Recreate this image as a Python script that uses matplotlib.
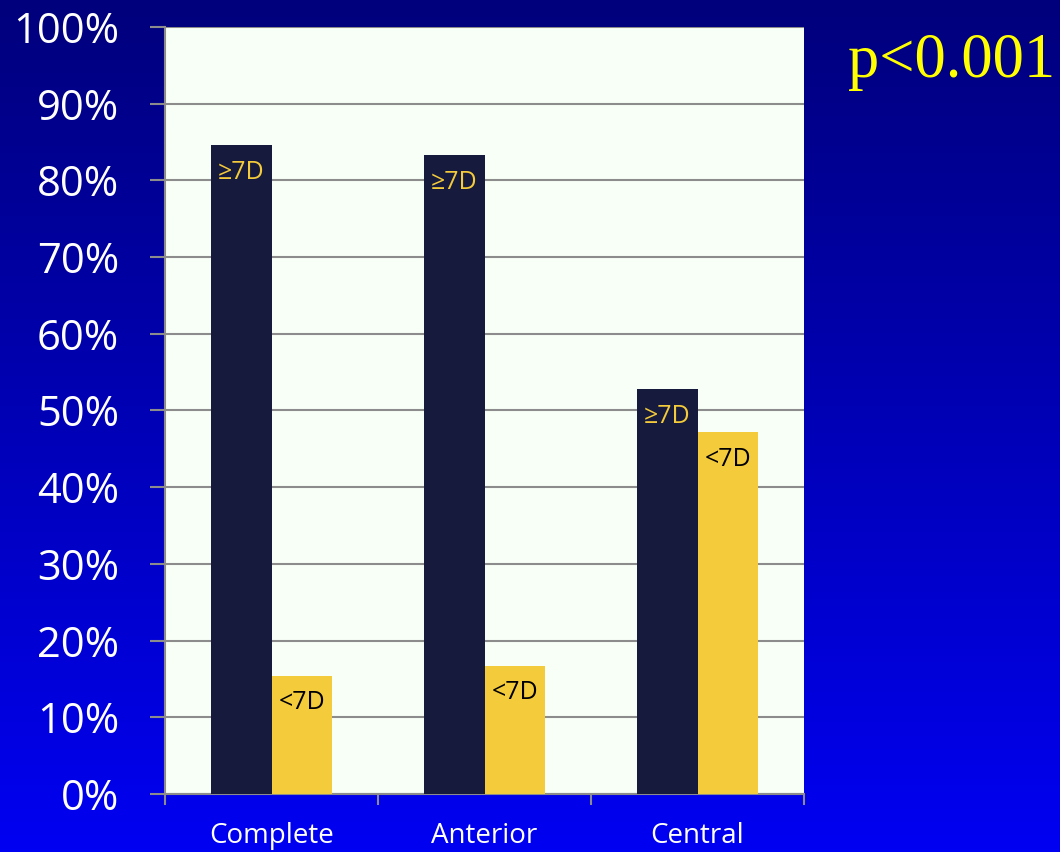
import matplotlib
matplotlib.use("Agg")
import matplotlib.pyplot as plt
import numpy as np

# data (percent of patients)
categories = ["Complete", "Anterior", "Central"]
ge7d = [84.6, 83.3, 52.8]
lt7d = [15.4, 16.7, 47.2]
series_labels = ["\u22657D", "<7D"]
y_ticks = [0, 10, 20, 30, 40, 50, 60, 70, 80, 90, 100]
p_text = "p<0.001"

DARK = "#161a3c"
GOLD = "#f4cb3a"
PANEL = "#f7fff7"
GRID = "#8c8c8c"

plt.rcParams["font.family"] = ["Open Sans", "DejaVu Sans"]

fig = plt.figure(figsize=(10.6, 8.52), dpi=100)

# blue gradient background
bg = fig.add_axes([0, 0, 1, 1], zorder=0)
grad = np.linspace(0, 1, 256).reshape(-1, 1)
cmap = matplotlib.colors.LinearSegmentedColormap.from_list(
    "bg", ["#00007c", "#0000f2"])
bg.imshow(grad, aspect="auto", cmap=cmap, extent=[0, 1, 0, 1], origin="upper")
bg.set_axis_off()

ax = fig.add_axes([0.1557, 0.0681, 0.6028, 0.9002], zorder=1)
ax.set_facecolor(PANEL)

x = np.arange(len(categories))
w = 0.286
bars_a = ax.bar(x - w / 2, ge7d, w, color=DARK, zorder=3)
bars_b = ax.bar(x + w / 2, lt7d, w, color=GOLD, zorder=3)

for b in bars_a:
    ax.text(b.get_x() + b.get_width() / 2, b.get_height() - 1.9,
            series_labels[0], ha="center", va="top", color=GOLD,
            fontsize=18, zorder=4)
for b in bars_b:
    ax.text(b.get_x() + b.get_width() / 2, b.get_height() - 1.9,
            series_labels[1], ha="center", va="top", color="black",
            fontsize=18, zorder=4)

ax.set_xlim(-0.5, len(categories) - 0.5)
ax.set_ylim(0, 100)
ax.set_yticks(y_ticks)
ax.set_yticklabels([f"{t}%" for t in y_ticks])
ax.yaxis.grid(True, color=GRID, linewidth=1.5, zorder=1)
ax.set_axisbelow(True)

ax.set_xticks(x)
ax.set_xticklabels(categories)
ax.set_xticks(np.arange(-0.5, len(categories)), minor=True)
ax.tick_params(axis="x", which="major", length=0, pad=20,
               labelsize=20, labelcolor="white")
ax.tick_params(axis="x", which="minor", length=8, width=1.5,
               color=GRID, direction="out")
ax.tick_params(axis="y", length=11, width=1.5, color=GRID, pad=22,
               labelsize=30, labelcolor="white")

for side in ("top", "right"):
    ax.spines[side].set_visible(False)
for side in ("left", "bottom"):
    ax.spines[side].set_color(GRID)
    ax.spines[side].set_linewidth(1.5)

fig.text(0.8, 0.927, p_text, color="#ffff00", fontsize=45,
         family="Liberation Serif", ha="left", va="center")

fig.savefig("out.png", dpi=100)
